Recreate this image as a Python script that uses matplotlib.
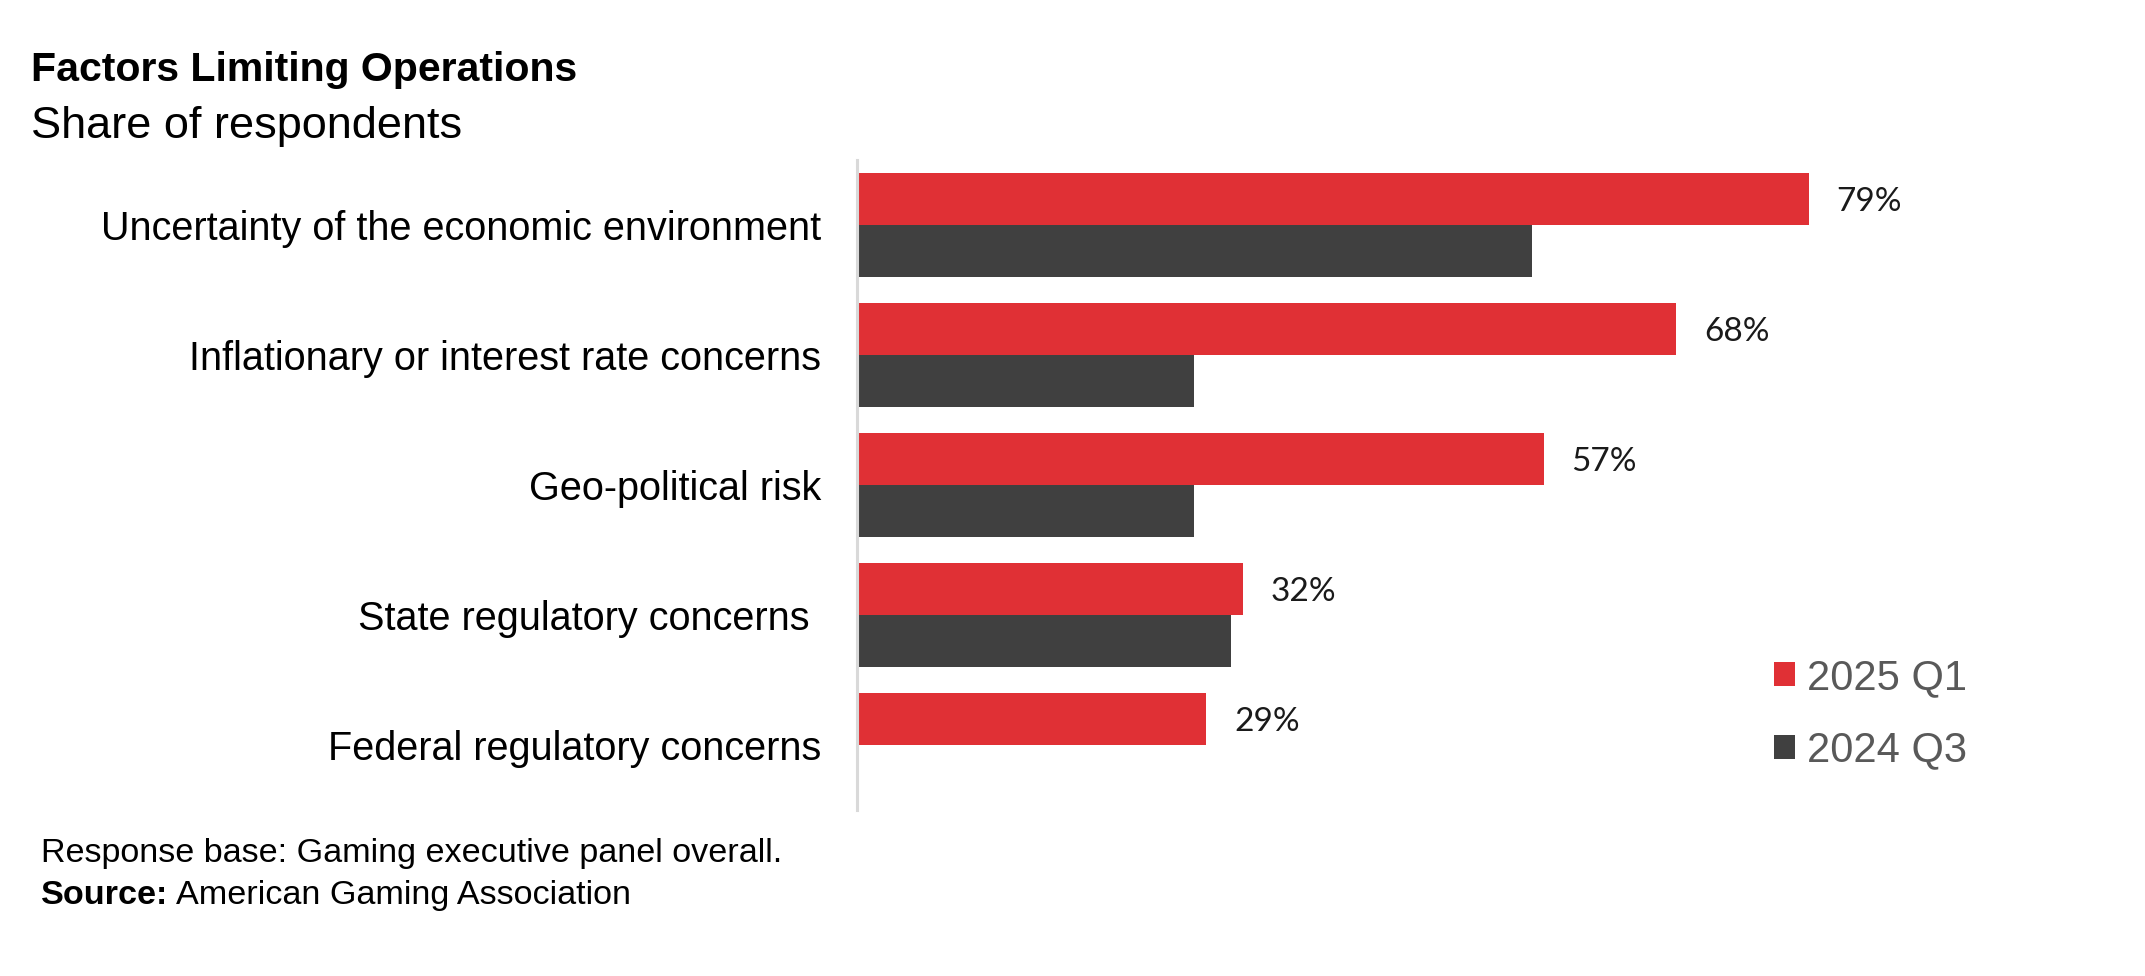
import numpy as np
import matplotlib
matplotlib.use("Agg")
import matplotlib.pyplot as plt

# ---- data ----
categories = [
    "Uncertainty of the economic environment",
    "Inflationary or interest rate concerns",
    "Geo-political risk",
    "State regulatory concerns ",
    "Federal regulatory concerns",
]
series_names = ["2025 Q1", "2024 Q3"]
q1_2025 = [79, 68, 57, 32, 29]
q3_2024 = [56, 28, 28, 31, None]

title = "Factors Limiting Operations"
subtitle = "Share of respondents"
note = "Response base: Gaming executive panel overall."
source_label = "Source:"
source_text = "American Gaming Association"

RED = "#E03035"
DARK = "#404040"
AXIS = "#D9D9D9"
FONT = ["Liberation Sans", "DejaVu Sans"]

W, H = 2145, 976
fig = plt.figure(figsize=(W / 100, H / 100), dpi=100)
fig.patch.set_facecolor("white")

def fx(px):
    return px / W

def fy(py):
    return 1 - py / H

ax = fig.add_axes([fx(857), fy(810), 1205 / W, 650 / H])

y = np.arange(len(categories))
bh = 0.4
b1 = ax.barh(y - bh / 2, q1_2025, height=bh, color=RED, label=series_names[0])
idx2 = [i for i, v in enumerate(q3_2024) if v is not None]
b2 = ax.barh(y[idx2] + bh / 2, [q3_2024[i] for i in idx2], height=bh, color=DARK,
             label=series_names[1])

for i, v in enumerate(q1_2025):
    ax.annotate(f"{v}%", xy=(v, i - bh / 2), xytext=(20, 0), textcoords="offset points",
                ha="left", va="center_baseline", fontsize=24, family=["Lato", "DejaVu Sans"],
                color="#1a1a1a")

ax.set_xlim(0, 100)
ax.set_ylim(len(categories) - 0.5, -0.5)
ax.set_yticks(y)
ax.set_yticklabels(categories, fontsize=28.5, family=FONT, color="black")
ax.tick_params(axis="y", length=0, pad=26)
ax.set_xticks([])
for s in ["top", "right", "bottom"]:
    ax.spines[s].set_visible(False)
ax.spines["left"].set_color(AXIS)
ax.spines["left"].set_linewidth(2.2)

leg = ax.legend(handles=[b1, b2], loc="upper left", bbox_to_anchor=(fx(1774), fy(658)),
                bbox_transform=fig.transFigure, frameon=False,
                prop={"family": FONT, "size": 30},
                handlelength=0.5, handleheight=0.5, handletextpad=0.3,
                labelspacing=0.78, borderaxespad=0, borderpad=0)
for t in leg.get_texts():
    t.set_color("#595959")

fig.text(fx(31), fy(81), title, fontsize=29.5, fontweight="bold", family=FONT,
         va="baseline", ha="left", color="black")
fig.text(fx(31), fy(138), subtitle, fontsize=32.5, family=FONT, va="baseline",
         ha="left", color="black")

fig.text(fx(41), fy(862), note, fontsize=24.6, family=FONT, va="baseline", ha="left",
         color="black")
src = fig.text(fx(41), fy(904), source_label, fontsize=24.6, fontweight="bold", family=FONT,
               va="baseline", ha="left", color="black")
r = fig.canvas.get_renderer()
bb = src.get_window_extent(renderer=r)
fig.text((bb.x1 + 8) / W, fy(904), source_text, fontsize=24.6, family=FONT,
         va="baseline", ha="left", color="black")

fig.savefig("out.png", dpi=100, facecolor="white")
